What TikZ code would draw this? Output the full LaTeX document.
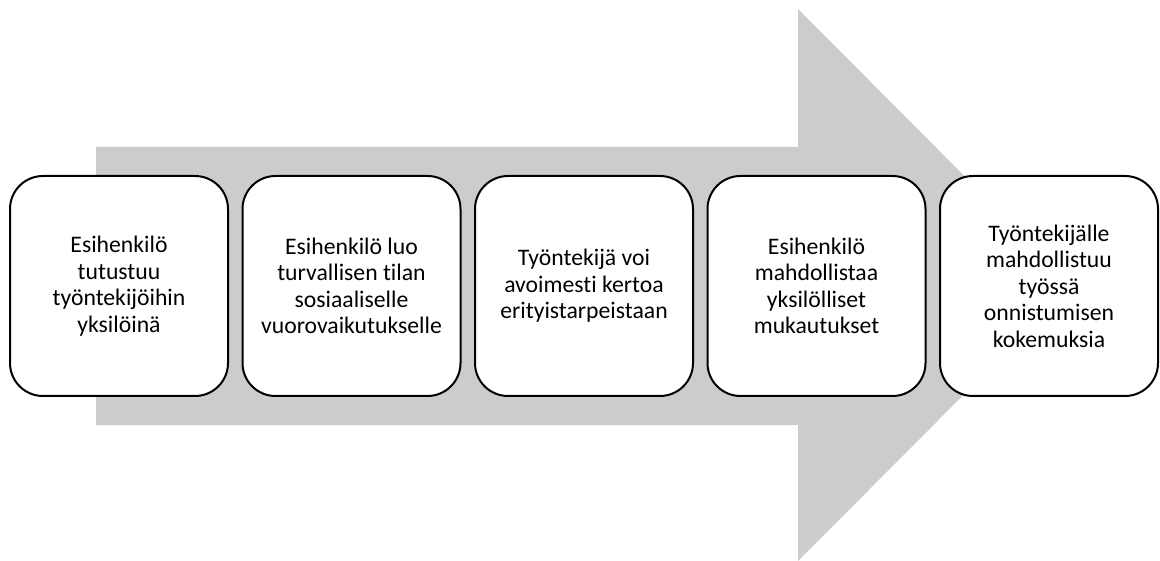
\documentclass[tikz,border=0pt]{standalone}
\usepackage{fontspec}
\setmainfont{Carlito}[Ligatures={NoCommon}]
\begin{document}
\begin{tikzpicture}[x=1pt,y=-1pt,
  stepbox/.style={draw=black, line width=2pt, fill=white, rounded corners=33pt,
    minimum width=218pt, minimum height=220pt, inner sep=0pt, align=center,
    font=\fontsize{23.7}{26.5}\selectfont, text=black}]
\useasboundingbox (0,0) rectangle (1160,561);
\fill[black!20] (96,147) -- (798,147) -- (798,9) -- (1073,285) -- (798,561) -- (798,425) -- (96,425) -- cycle;
\node[stepbox] (b1) at (119,286) {Esihenkilö\\tutustuu\\työntekijöihin\\yksilöinä};
\node[stepbox] (b2) at (351.5,286) {Esihenkilö luo\\turvallisen tilan\\sosiaaliselle\\vuorovaikutukselle};
\node[stepbox] (b3) at (584,286) {Työntekijä voi\\avoimesti kertoa\\erityistarpeistaan};
\node[stepbox] (b4) at (816.5,286) {Esihenkilö\\mahdollistaa\\yksilölliset\\mukautukset};
\node[stepbox] (b5) at (1049,286) {Työntekijälle\\mahdollistuu\\työssä\\onnistumisen\\kokemuksia};
\end{tikzpicture}
\end{document}
